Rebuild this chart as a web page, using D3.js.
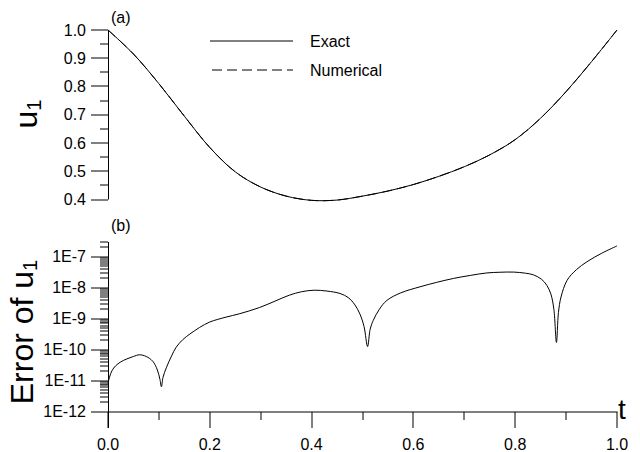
<!DOCTYPE html>
<html>
<head>
<meta charset="utf-8">
<script src="https://cdn.jsdelivr.net/npm/d3@7"></script>
<style>
  html, body { margin: 0; padding: 0; background: #fff; }
  svg { display: block; }
  text { font-family: "Liberation Sans", Arial, Helvetica, sans-serif; fill: #000; }
</style>
</head>
<body>
<svg id="chart" width="640" height="452"></svg>
<script>
// ---- data ----
const uTicks = [0.4, 0.5, 0.6, 0.7, 0.8, 0.9, 1.0];
const tTicks = [0, 0.2, 0.4, 0.6, 0.8, 1.0];
const errTickLabels = ["1E-12", "1E-11", "1E-10", "1E-9", "1E-8", "1E-7"];
const errTickValues = [1e-12, 1e-11, 1e-10, 1e-9, 1e-8, 1e-7];

const uT     = [0, 0.05, 0.10, 0.15, 0.20, 0.25, 0.30, 0.35, 0.40, 0.45, 0.50, 0.55, 0.60, 0.65, 0.70, 0.75, 0.80, 0.85, 0.90, 0.95, 1.00];
const uExact = [1.0, 0.915, 0.81, 0.695, 0.584, 0.498, 0.444, 0.412, 0.397, 0.398, 0.412, 0.430, 0.453, 0.482, 0.516, 0.558, 0.612, 0.688, 0.782, 0.888, 1.0];
const uNumerical = [1.0, 0.915, 0.81, 0.695, 0.584, 0.498, 0.444, 0.412, 0.397, 0.398, 0.412, 0.430, 0.453, 0.482, 0.516, 0.558, 0.612, 0.688, 0.782, 0.888, 1.0];

const errT = [0, 0.003, 0.008, 0.015, 0.025, 0.037, 0.05, 0.062, 0.075, 0.088, 0.097, 0.102, 0.105, 0.108, 0.115, 0.125, 0.134, 0.147, 0.161, 0.18, 0.2, 0.23, 0.259, 0.298, 0.33, 0.357, 0.38, 0.405, 0.43, 0.456, 0.472, 0.485, 0.495, 0.503, 0.51, 0.515, 0.521, 0.533, 0.548, 0.575, 0.613, 0.645, 0.679, 0.712, 0.744, 0.77, 0.797, 0.82, 0.836, 0.852, 0.862, 0.87, 0.876, 0.881, 0.885, 0.89, 0.902, 0.92, 0.941, 0.97, 1.0];
const errU = [8e-12, 1.3e-11, 2.1e-11, 3.0e-11, 4.0e-11, 5.0e-11, 6.0e-11, 6.8e-11, 6.0e-11, 4.2e-11, 2.2e-11, 1.1e-11, 6.3e-12, 1.26e-11, 2.7e-11, 6.3e-11, 1.2e-10, 2.1e-10, 3.2e-10, 5.2e-10, 7.8e-10, 1.1e-9, 1.45e-9, 2.3e-9, 3.8e-9, 5.8e-9, 7.4e-9, 8.3e-9, 7.8e-9, 6.5e-9, 4.8e-9, 2.8e-9, 1.4e-9, 5.6e-10, 1.26e-10, 4.5e-10, 8.7e-10, 2.0e-9, 3.9e-9, 6.8e-9, 1.07e-8, 1.48e-8, 2.0e-8, 2.5e-8, 3.0e-8, 3.16e-8, 3.2e-8, 2.95e-8, 2.6e-8, 1.86e-8, 1.2e-8, 6.3e-9, 2e-9, 1.7e-10, 1.6e-9, 5e-9, 1.74e-8, 3.8e-8, 6.9e-8, 1.3e-7, 2.24e-7];

// ---- layout ----
const svg = d3.select("#chart");
const x = d3.scaleLinear().domain([0, 1]).range([108, 617]);
const yTop = d3.scaleLinear().domain([0.4, 1.0]).range([199.5, 30]);
const yBot = d3.scaleLog().domain([1e-12, 3e-7]).range([411.5, 242]);

const tickColor = "#000";
const majorLen = 16, minorLen = 8;

// ---- top panel axis ----
const gTop = svg.append("g");
const topMinor = d3.range(0.45, 1.0, 0.1);
gTop.selectAll("line.minor").data(topMinor).enter().append("line")
  .attr("x1", 108 - minorLen).attr("x2", 108)
  .attr("y1", d => Math.round(yTop(d))).attr("y2", d => Math.round(yTop(d)))
  .attr("stroke", tickColor).attr("stroke-width", 1);
gTop.selectAll("line.major").data(uTicks).enter().append("line")
  .attr("x1", 108 - majorLen - 1).attr("x2", 108)
  .attr("y1", d => Math.round(yTop(d))).attr("y2", d => Math.round(yTop(d)))
  .attr("stroke", tickColor).attr("stroke-width", 1);
gTop.selectAll("text.tl").data(uTicks).enter().append("text")
  .attr("x", 86).attr("y", d => yTop(d)).attr("dy", "0.35em")
  .attr("text-anchor", "end").attr("font-size", 16)
  .text(d => d.toFixed(1));
gTop.append("line")
  .attr("x1", 108.5).attr("x2", 108.5)
  .attr("y1", yTop(1.0)).attr("y2", yTop(0.4))
  .attr("stroke", "#000").attr("stroke-width", 1);

// curves
const topData = uT.map((t, i) => ({t, e: uExact[i], n: uNumerical[i]}));
const lineE = d3.line().x(d => x(d.t)).y(d => yTop(d.e)).curve(d3.curveCatmullRom.alpha(0.5));
const lineN = d3.line().x(d => x(d.t)).y(d => yTop(d.n)).curve(d3.curveCatmullRom.alpha(0.5));
svg.append("path").datum(topData).attr("d", lineE)
  .attr("fill", "none").attr("stroke", "#000").attr("stroke-width", 1);
svg.append("path").datum(topData).attr("d", lineN)
  .attr("fill", "none").attr("stroke", "#000").attr("stroke-width", 1)
  .attr("stroke-dasharray", "10,5");

// legend
const leg = svg.append("g");
leg.append("line").attr("x1", 210).attr("x2", 293).attr("y1", 41).attr("y2", 41)
  .attr("stroke", "#000").attr("stroke-width", 1);
leg.append("line").attr("x1", 212).attr("x2", 293).attr("y1", 70).attr("y2", 70)
  .attr("stroke", "#000").attr("stroke-width", 1).attr("stroke-dasharray", "10,5");
leg.append("text").attr("x", 310).attr("y", 41).attr("dy", "0.35em").attr("font-size", 16).text("Exact");
leg.append("text").attr("x", 310).attr("y", 70).attr("dy", "0.35em").attr("font-size", 16).text("Numerical");

// panel labels
svg.append("text").attr("x", 111).attr("y", 23).attr("font-size", 16).text("(a)");
svg.append("text").attr("x", 111).attr("y", 231).attr("font-size", 16).text("(b)");

// axis titles
const t1 = svg.append("text").attr("transform", "translate(37,114) rotate(-90)")
  .attr("text-anchor", "middle").attr("font-size", 32);
t1.append("tspan").text("u");
t1.append("tspan").attr("font-size", 20).attr("dy", 4).text("1");

const t2 = svg.append("text").attr("transform", "translate(33,332) rotate(-90)")
  .attr("text-anchor", "middle").attr("font-size", 32);
t2.append("tspan").text("Error of u");
t2.append("tspan").attr("font-size", 20).attr("dy", 4).text("1");

// ---- bottom panel ----
const gBot = svg.append("g");
const botMinor = [];
errTickValues.forEach(v => { for (let k = 2; k <= 9; k++) { const m = v * k; if (m <= 3.0001e-7) botMinor.push(m); } });
gBot.selectAll("line.minor").data(botMinor).enter().append("line")
  .attr("x1", 108 - minorLen).attr("x2", 108)
  .attr("y1", d => Math.round(yBot(d))).attr("y2", d => Math.round(yBot(d)))
  .attr("stroke", tickColor).attr("stroke-width", 1);
gBot.selectAll("line.major").data(errTickValues).enter().append("line")
  .attr("x1", 108 - majorLen - 1).attr("x2", 108)
  .attr("y1", d => Math.round(yBot(d))).attr("y2", d => Math.round(yBot(d)))
  .attr("stroke", tickColor).attr("stroke-width", 1);
gBot.selectAll("text.tl").data(errTickValues).enter().append("text")
  .attr("x", 86).attr("y", d => yBot(d)).attr("dy", "0.35em")
  .attr("text-anchor", "end").attr("font-size", 16)
  .text((d, i) => errTickLabels[i]);

// x axis
const xAxisY = Math.round(yBot(1e-12));
gBot.append("line").attr("x1", 108).attr("x2", x(1) + 0.5)
  .attr("y1", xAxisY).attr("y2", xAxisY)
  .attr("stroke", tickColor).attr("stroke-width", 1);
const xMinor = [0.1, 0.3, 0.5, 0.7, 0.9];
gBot.selectAll("line.xminor").data(xMinor).enter().append("line")
  .attr("x1", d => Math.round(x(d))).attr("x2", d => Math.round(x(d)))
  .attr("y1", xAxisY).attr("y2", xAxisY + minorLen)
  .attr("stroke", tickColor).attr("stroke-width", 1);
gBot.selectAll("line.xmajor").data(tTicks).enter().append("line")
  .attr("x1", d => Math.round(x(d))).attr("x2", d => Math.round(x(d)))
  .attr("y1", xAxisY).attr("y2", xAxisY + majorLen)
  .attr("stroke", tickColor).attr("stroke-width", 1);
gBot.selectAll("text.xl").data(tTicks).enter().append("text")
  .attr("x", d => x(d)).attr("y", 450)
  .attr("text-anchor", "middle").attr("font-size", 16)
  .text(d => d.toFixed(1));
gBot.append("line").attr("x1", 108.5).attr("x2", 108.5)
  .attr("y1", yBot(3e-7)).attr("y2", xAxisY + majorLen)
  .attr("stroke", "#000").attr("stroke-width", 1);
svg.append("text").attr("x", 618).attr("y", 419).attr("font-size", 28).text("t");

// error curve
const errData = errT.map((t, i) => ({t, v: errU[i]}));
const lineErr = d3.line().x(d => x(d.t)).y(d => yBot(d.v)).curve(d3.curveCatmullRom.alpha(0.5));
svg.append("path").datum(errData).attr("d", lineErr)
  .attr("fill", "none").attr("stroke", "#000").attr("stroke-width", 1);
</script>
</body>
</html>
